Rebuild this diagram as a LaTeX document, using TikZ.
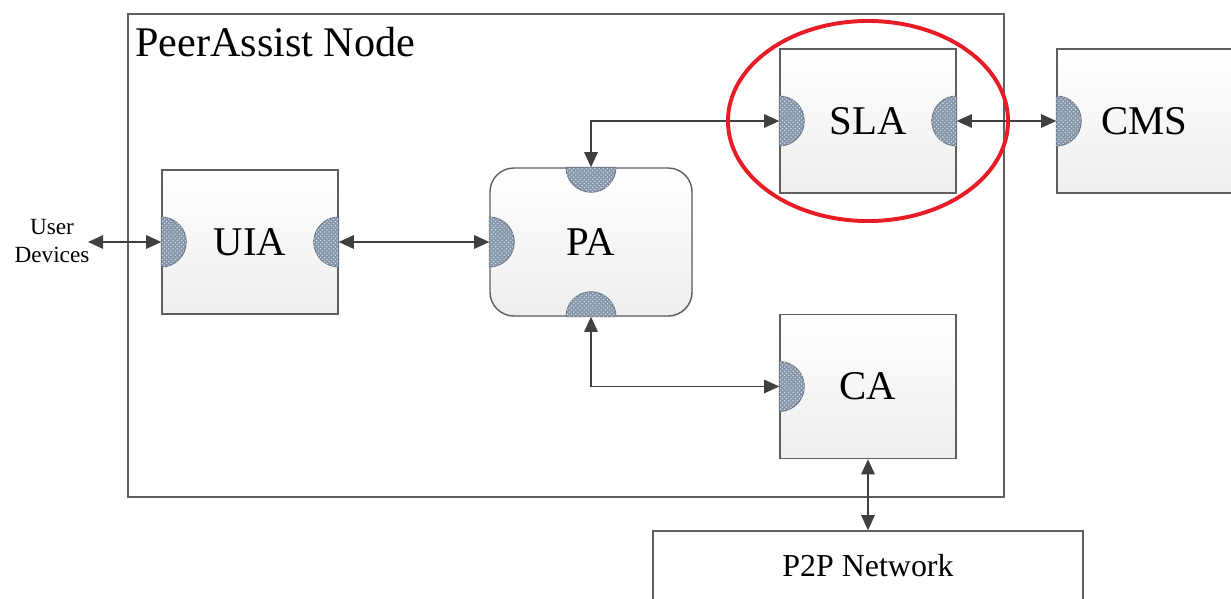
\documentclass[tikz,border=0pt]{standalone}
\usepackage{fontspec}
\setmainfont{Liberation Serif}
\usepackage{tikz}
\usetikzlibrary{arrows.meta,patterns,shadows}
\definecolor{boxgray}{RGB}{95,95,95}
\definecolor{arrgray}{RGB}{64,64,64}
\definecolor{portfill}{RGB}{135,152,172}
\definecolor{portedge}{RGB}{105,115,128}
\definecolor{ringred}{RGB}{232,28,38}
% half-disc port on a box edge: #1 = anchor, #2 = start angle
\newcommand{\portat}[2]{\filldraw[port] (#1) ++(#2:6.25mm)
  arc[start angle=#2, delta angle=-180, radius=6.25mm] -- cycle;}
\tikzset{
  blk/.style    = {draw=boxgray, line width=1pt, top color=white, bottom color=gray!13,
                   minimum width=4.4cm, minimum height=3.6cm, inner sep=0pt,
                   drop shadow={shadow xshift=0.6pt, shadow yshift=-0.6pt, opacity=0.2},
                   font=\fontsize{29}{31}\selectfont},
  frame/.style  = {draw=boxgray, line width=1pt},
  port/.style   = {fill=portfill, draw=portedge, line width=0.6pt,
                   postaction={pattern=crosshatch dots, pattern color=white!75!portfill}},
  conn/.style   = {{Triangle[length=3.8mm,width=3.4mm]}-{Triangle[length=3.8mm,width=3.4mm]},
                   line width=1pt, draw=arrgray},
  ring/.style   = {draw=ringred, line width=2.8pt}
}
\begin{document}
\begin{tikzpicture}[x=0.025cm,y=-0.025cm]
  \useasboundingbox (0,0) rectangle (1231,599);
  \clip (0,0) rectangle (1231,599);
  % --- PeerAssist container
  \node[frame, minimum width=21.9cm, minimum height=12.075cm, inner sep=0pt] (peer) at (566,255.5) {};
  \node[anchor=base west, inner sep=0pt, font=\fontsize{30}{32}\selectfont] (ttl) at (135,56) {PeerAssist Node};
  % --- agents
  \node[blk] (uia) at (250,242) {UIA};
  \node[blk, rounded corners=0.6cm, minimum width=5.05cm, minimum height=3.7cm] (pa) at (591,242) {PA};
  \node[blk] (sla) at (868,121) {SLA};
  \node[blk] (ca) at (868,386.5) {CA};
  \node[blk, minimum width=4.375cm] (cms) at (1144.5,121) {CMS};
  \node[draw=boxgray, line width=1pt, fill=white, minimum width=10.75cm, minimum height=1.75cm,
        inner sep=0pt, font=\fontsize{22.7}{24}\selectfont] (p2p) at (868,566) {P2P Network};
  \node[align=center, inner sep=0pt, font=\fontsize{16.5}{20}\selectfont] (usr) at (52,241) {User\\Devices};
  \coordinate (usrtip) at (88,242);
  % --- ports
  \portat{uia.west}{90}
  \portat{uia.east}{-90}
  \portat{pa.west}{90}
  \portat{pa.north}{0}
  \portat{pa.south}{180}
  \portat{sla.west}{90}
  \portat{sla.east}{-90}
  \portat{cms.west}{90}
  \portat{ca.west}{90}
  % --- links
  \draw[conn] (usrtip) -- (uia.west);
  \draw[conn] (uia.east) -- (pa.west);
  \draw[conn] (pa.north) |- (sla.west);
  \draw[conn] (sla.east) -- (cms.west);
  \draw[conn] (pa.south) |- (ca.west);
  \draw[conn] (ca.south) -- (p2p.north);
  % highlight
  \draw[ring] (sla.center) ellipse[x radius=3.5cm, y radius=2.5cm];
\end{tikzpicture}
\end{document}
